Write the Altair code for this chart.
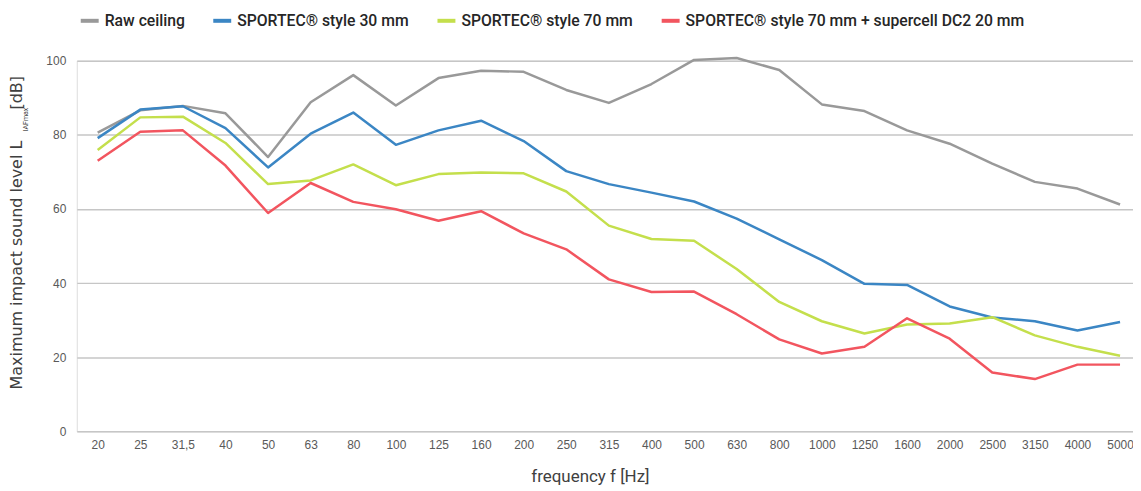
import altair as alt
import pandas as pd

freqs = ["20", "25", "31,5", "40", "50", "63", "80", "100", "125", "160", "200",
         "250", "315", "400", "500", "630", "800", "1000", "1250", "1600", "2000",
         "2500", "3150", "4000", "5000"]

series_names = ["Raw ceiling", "SPORTEC® style 30 mm", "SPORTEC® style 70 mm",
                "SPORTEC® style 70 mm + supercell DC2 20 mm"]
series_colors = ["#999999", "#3b86c4", "#c4df4c", "#f2555f"]

raw_ceiling = [80.6, 86.6, 87.8, 85.8, 74.0, 88.8, 96.1, 87.9, 95.3, 97.3, 97.0,
               92.1, 88.6, 93.7, 100.2, 100.7, 97.5, 88.2, 86.4, 81.2, 77.6,
               72.2, 67.3, 65.5, 61.2]
style_30 = [79.1, 86.8, 87.7, 81.8, 71.2, 80.3, 86.0, 77.3, 81.2, 83.8, 78.3,
            70.2, 66.7, 64.4, 62.0, 57.4, 51.8, 46.2, 39.8, 39.5, 33.7,
            30.7, 29.7, 27.2, 29.5]
style_70 = [75.9, 84.7, 84.9, 77.8, 66.7, 67.7, 72.0, 66.4, 69.4, 69.8, 69.6,
            64.7, 55.5, 51.9, 51.4, 43.8, 34.9, 29.7, 26.4, 28.8, 29.1,
            30.8, 25.9, 22.8, 20.4]
style_70_dc2 = [73.0, 80.8, 81.2, 71.7, 58.9, 67.0, 61.9, 59.9, 56.8, 59.4, 53.4,
                49.1, 41.0, 37.6, 37.7, 31.6, 24.8, 21.0, 22.8, 30.5, 25.0,
                15.9, 14.1, 18.0, 18.0]

y_ticks = [0, 20, 40, 60, 80, 100]

rows = []
for name, vals in zip(series_names, [raw_ceiling, style_30, style_70, style_70_dc2]):
    for i, (f, v) in enumerate(zip(freqs, vals)):
        rows.append({"idx": i, "freq": f, "series": name, "value": v})
df = pd.DataFrame(rows)

label_expr = "[" + ",".join("'" + f + "'" for f in freqs) + "][datum.value]"
FONT = "Roboto"
YFONT = "DejaVu Sans"

W, H = 1060, 372
step = (1124 - 98) / (len(freqs) - 1)
x_min = -21.0 / step
x_max = x_min + W / step

lines = alt.Chart(df).mark_line(strokeWidth=2.5, strokeJoin="round").encode(
    x=alt.X("idx:Q",
            scale=alt.Scale(domain=[x_min, x_max], nice=False, zero=False),
            axis=alt.Axis(values=list(range(len(freqs))), labelExpr=label_expr,
                          grid=False, domain=False, ticks=False,
                          labelFont="Liberation Sans", labelFontSize=12,
                          labelColor="#595959", labelPadding=8,
                          title="frequency f [Hz]", titleFont=FONT,
                          titleFontSize=17, titleFontWeight="normal",
                          titleColor="#404040", titleX=515, titleY=50,
                          titleBaseline="alphabetic",
                          titleAlign="center", labelOverlap=False)),
    y=alt.Y("value:Q",
            scale=alt.Scale(domain=[0, 100], nice=False),
            axis=alt.Axis(values=y_ticks, grid=True, gridColor="#c6c6c6",
                          gridWidth=1.5, domain=False, ticks=False,
                          labelFont="Liberation Sans", labelFontSize=12,
                          labelColor="#595959", labelPadding=11, title=None)),
    color=alt.Color("series:N",
                    scale=alt.Scale(domain=series_names, range=series_colors),
                    sort=series_names,
                    legend=alt.Legend(orient="none", legendX=2, legendY=-51,
                                      direction="horizontal", columns=4,
                                      gridAlign="none",
                                      title=None, symbolType="stroke",
                                      symbolSize=324, symbolStrokeWidth=4,
                                      labelFont=FONT, labelFontSize=15.8,
                                      labelFontWeight=500, labelColor="#262626",
                                      labelOffset=4, columnPadding=20,
                                      padding=0, labelLimit=500)),
    order="idx:Q",
)

title_main = alt.Chart(pd.DataFrame([{"t": "Maximum impact sound level L"}])).mark_text(
    angle=270, align="left", baseline="middle", font=YFONT, fontSize=16,
    color="#404040").encode(text="t:N", x=alt.value(-60), y=alt.value(330))
title_sub = alt.Chart(pd.DataFrame([{"t": "IAFmax"}])).mark_text(
    angle=270, align="left", baseline="middle", font=FONT, fontSize=7,
    color="#404040").encode(text="t:N", x=alt.value(-51), y=alt.value(71))
title_unit = alt.Chart(pd.DataFrame([{"t": "[dB]"}])).mark_text(
    angle=270, align="left", baseline="middle", font=YFONT, fontSize=16,
    color="#404040").encode(text="t:N", x=alt.value(-60), y=alt.value(49))

chart = alt.layer(lines, title_main, title_sub, title_unit).properties(
    width=W, height=H,
    autosize=alt.AutoSizeParams(type="none"),
    padding={"left": 69, "top": 52, "right": 0, "bottom": 55},
).configure_view(stroke=None).configure(background="white")

chart.save("out.html", embed_options={"renderer": "svg", "actions": False})
